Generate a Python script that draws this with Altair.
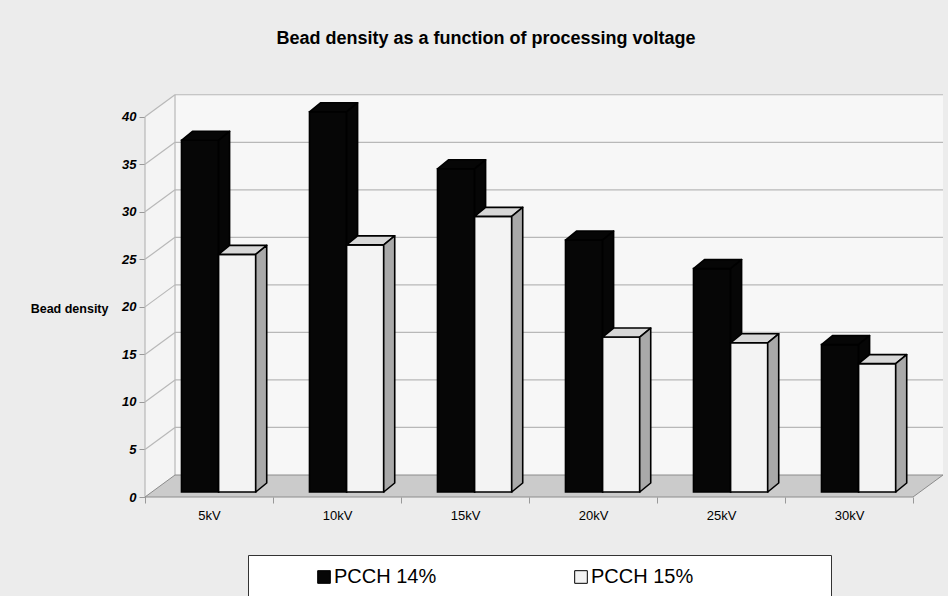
import json
import altair as alt
import pandas as pd

# ---- chart data -------------------------------------------------------------
voltages = ["5kV", "10kV", "15kV", "20kV", "25kV", "30kV"]
series_names = ["PCCH 14%", "PCCH 15%"]
pcch14 = [37, 40, 34, 26.5, 23.5, 15.5]
pcch15 = [25, 26, 29, 16.3, 15.7, 13.5]
y_ticks = [0, 5, 10, 15, 20, 25, 30, 35, 40]

# ---- 3-D box geometry, expressed in scale units ------------------------------
N = len(voltages)
PLOT_W, PLOT_H = 800, 404
X_MAX = 6.25
Y_MAX = 42.5
PX_X = PLOT_W / X_MAX          # px per category
PX_Y = PLOT_H / Y_MAX          # px per value unit
WALL_DX, WALL_DY = 30 / PX_X, 22 / PX_Y   # depth of floor / side wall
BAR_DX, BAR_DY = 11 / PX_X, 9 / PX_Y      # depth of a column
BAR_BASE = 5 / PX_Y                        # columns stand slightly behind the front edge
BAR_X0, BAR_W = 0.285, 0.29
TOP = y_ticks[-1]

FONT = "Liberation Sans"
xs = alt.Scale(domain=[0, X_MAX], nice=False, zero=False)
ys = alt.Scale(domain=[0, Y_MAX], nice=False, zero=False)

x_labels = json.dumps(voltages)
x_axis = alt.Axis(
    values=list(range(N + 1)), domain=False, grid=False, title=None,
    tickColor="#999999", tickSize=6,
    labelExpr=f"datum.value < {N} ? {x_labels}[datum.value] : ''",
    labelOffset=PX_X / 2, labelFlush=False, labelOverlap=False, labelPadding=6,
    labelFont=FONT, labelFontSize=13, labelColor="black",
)
y_axis = alt.Axis(
    values=y_ticks, domain=False, grid=False,
    tickColor="#999999", tickSize=6,
    labelFont=FONT, labelFontSize=13, labelFontWeight="bold", labelFontStyle="italic",
    labelColor="black", labelPadding=3,
    title="Bead density", titleAngle=0, titleAlign="right", titleBaseline="middle",
    titleX=-37, titleY=215, titleFont=FONT, titleFontSize=12.5, titleFontWeight="bold",
    titleColor="black",
)


def X(f="x"):
    return alt.X(f"{f}:Q", scale=xs, axis=x_axis)


def Y(f="y"):
    return alt.Y(f"{f}:Q", scale=ys, axis=y_axis, stack=None)


# back wall
back_wall = pd.DataFrame([{"x": WALL_DX, "x2": N + WALL_DX, "y": WALL_DY, "y2": TOP + WALL_DY}])
# left wall (parallelogram)
left_wall = pd.DataFrame([
    {"x": 0, "y": 0, "y2": TOP},
    {"x": WALL_DX, "y": WALL_DY, "y2": TOP + WALL_DY},
])
# floor (parallelogram)
floor = pd.DataFrame([
    {"x": 0, "y": 0, "y2": 0},
    {"x": WALL_DX, "y": 0, "y2": WALL_DY},
    {"x": N, "y": 0, "y2": WALL_DY},
    {"x": N + WALL_DX, "y": WALL_DY, "y2": WALL_DY},
])
# gridlines on both walls plus wall edges
segs = []
for v in y_ticks[1:]:
    segs.append({"x": WALL_DX, "x2": N + WALL_DX, "y": v + WALL_DY, "y2": v + WALL_DY})
    segs.append({"x": 0, "x2": WALL_DX, "y": v, "y2": v + WALL_DY})
segs.append({"x": WALL_DX, "x2": WALL_DX, "y": WALL_DY, "y2": TOP + WALL_DY})
segs.append({"x": 0, "x2": 0, "y": 0, "y2": TOP})
grid = pd.DataFrame(segs)


def column_tables(values, s):
    fronts, tops, sides = [], [], []
    for i, v in enumerate(values):
        xl = i + BAR_X0 + s * BAR_W
        xr = xl + BAR_W
        top = BAR_BASE + v
        name = series_names[s]
        fronts.append({"x": xl, "x2": xr, "y": BAR_BASE, "y2": top, "series": name})
        for x, y0, y1 in [
            (xl, top, top),
            (xl + BAR_DX, top, top + BAR_DY),
            (xr, top, top + BAR_DY),
            (xr + BAR_DX, top + BAR_DY, top + BAR_DY),
        ]:
            tops.append({"face": f"t{i}", "x": x, "y": y0, "y2": y1})
        sides.append({"face": f"s{i}", "x": xr, "y": BAR_BASE, "y2": top})
        sides.append({"face": f"s{i}", "x": xr + BAR_DX, "y": BAR_BASE + BAR_DY, "y2": top + BAR_DY})
    return pd.DataFrame(fronts), pd.DataFrame(tops), pd.DataFrame(sides)


fill_scale = alt.Scale(domain=series_names, range=["#060606", "#f3f3f3"])
legend = alt.Legend(
    title=" ", titleOrient="right", titlePadding=126,
    orient="none", legendX=103, legendY=462, direction="horizontal",
    padding=12, fillColor="white", strokeColor="#333333",
    symbolType="square", symbolSize=160, symbolStrokeColor="black", symbolStrokeWidth=1,
    symbolOffset=54, columnPadding=80, labelOffset=0,
    labelFont=FONT, labelFontSize=20, labelColor="black",
)

layers = [
    alt.Chart(back_wall).mark_rect(fill="#f7f7f7").encode(
        x=X(), x2="x2", y=Y(), y2="y2"),
    alt.Chart(left_wall).mark_area(fill="#f4f4f4", orient="vertical").encode(
        x=X(), y=Y(), y2="y2"),
    alt.Chart(grid).mark_rule(color="#b8b8b8", strokeWidth=1.2).encode(
        x=X(), x2="x2", y=Y(), y2="y2"),
    alt.Chart(floor).mark_area(fill="#cbcbcb", stroke="#8c8c8c", strokeWidth=1,
                               orient="vertical").encode(x=X(), y=Y(), y2="y2"),
]

side_fill = ["#060606", "#a9a9a9"]
top_fill = ["#060606", "#d7d7d7"]
for s, vals in enumerate([pcch14, pcch15]):
    fr, tp, sd = column_tables(vals, s)
    layers.append(
        alt.Chart(fr).mark_rect(stroke="black", strokeWidth=1.6).encode(
            x=X(), x2="x2", y=Y(), y2="y2",
            fill=alt.Fill("series:N", scale=fill_scale, legend=legend))
    )
    layers.append(
        alt.Chart(tp).mark_area(fill=top_fill[s], stroke="black", strokeWidth=1.6,
                                strokeJoin="round", orient="vertical").encode(
            x=X(), y=Y(), y2="y2", detail="face:N")
    )
    layers.append(
        alt.Chart(sd).mark_area(fill=side_fill[s], stroke="black", strokeWidth=1.6,
                                strokeJoin="round", orient="vertical").encode(
            x=X(), y=Y(), y2="y2", detail="face:N")
    )

chart = alt.layer(*layers).properties(
    width=PLOT_W, height=PLOT_H,
    autosize=alt.AutoSizeParams(type="none"),
    padding={"left": 145, "top": 93, "right": 3, "bottom": 99},
    background="#ececec",
    title=alt.TitleParams(
        "Bead density as a function of processing voltage",
        font=FONT, fontSize=18, fontWeight="bold", color="black",
        anchor="middle", dx=-59, offset=45,
    ),
).configure_view(stroke=None)

chart.save("out.html", embed_options={"renderer": "svg", "actions": False})
